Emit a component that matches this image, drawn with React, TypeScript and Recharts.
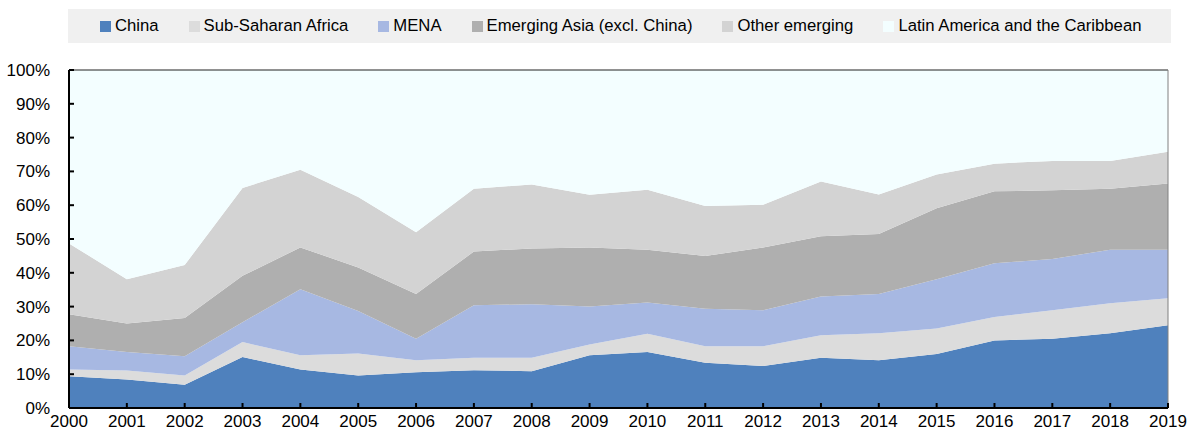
import { Area, AreaChart, ReferenceLine, XAxis, YAxis } from "recharts";

const years = [
  "2000", "2001", "2002", "2003", "2004", "2005", "2006", "2007", "2008", "2009",
  "2010", "2011", "2012", "2013", "2014", "2015", "2016", "2017", "2018", "2019",
];

// shares in % of total, per region
const china = [9.4, 8.4, 6.9, 15.1, 11.4, 9.6, 10.6, 11.2, 10.9, 15.6, 16.6, 13.4, 12.4, 14.9, 14.1, 16.0, 20.0, 20.5, 22.1, 24.5];
const subSaharan = [2.0, 2.7, 2.7, 4.4, 4.2, 6.5, 3.5, 3.7, 4.0, 3.2, 5.4, 4.9, 5.9, 6.6, 8.0, 7.5, 6.9, 8.4, 8.9, 8.0];
const mena = [6.9, 5.5, 5.7, 5.9, 19.5, 12.6, 6.4, 15.5, 15.8, 11.2, 9.2, 11.1, 10.6, 11.5, 11.6, 14.6, 15.9, 15.2, 15.8, 14.3];
const emergingAsia = [9.4, 8.4, 11.3, 13.7, 12.4, 12.9, 13.2, 15.9, 16.5, 17.5, 15.6, 15.6, 18.6, 17.8, 17.8, 21.0, 21.3, 20.3, 18.1, 19.6];
const otherEmerging = [21.0, 13.1, 15.7, 26.0, 23.0, 20.8, 18.3, 18.6, 18.9, 15.6, 17.8, 14.8, 12.6, 16.2, 11.7, 10.0, 8.2, 8.7, 8.2, 9.4];
const latinAmerica = [51.3, 61.9, 57.7, 34.9, 29.5, 37.6, 48.0, 35.1, 33.9, 36.9, 35.4, 40.2, 39.9, 33.0, 36.8, 30.9, 27.7, 26.9, 26.9, 24.2];

const yTicks = [0, 0.1, 0.2, 0.3, 0.4, 0.5, 0.6, 0.7, 0.8, 0.9, 1];

const series = [
  { key: "china", name: "China", color: "#4f81bd", values: china },
  { key: "ssa", name: "Sub-Saharan Africa", color: "#dcdcdc", values: subSaharan },
  { key: "mena", name: "MENA", color: "#a7b8e2", values: mena },
  { key: "easia", name: "Emerging Asia (excl. China)", color: "#afafaf", values: emergingAsia },
  { key: "other", name: "Other emerging", color: "#d3d3d3", values: otherEmerging },
  { key: "lac", name: "Latin America and the Caribbean", color: "#f3feff", values: latinAmerica },
];

const data = years.map((year, i) => {
  const row: Record<string, string | number> = { year };
  series.forEach((s) => {
    row[s.key] = s.values[i];
  });
  return row;
});

const font = '"Liberation Sans", Arial, sans-serif';

export default function App() {
  return (
    <div style={{ position: "absolute", left: 0, top: 0, width: 1197, height: 433, background: "#fff", fontFamily: font }}>
      <div
        style={{
          position: "absolute",
          left: 68,
          top: 9,
          width: 1103,
          height: 34,
          background: "#f0f0f0",
          display: "flex",
          alignItems: "center",
          paddingLeft: 32,
          boxSizing: "border-box",
          gap: 30,
          fontSize: 16.7,
          color: "#000",
          whiteSpace: "nowrap",
        }}
      >
        {series.map((s) => (
          <div key={s.key} style={{ display: "flex", alignItems: "center" }}>
            <span style={{ display: "inline-block", width: 11, height: 11, background: s.color, marginRight: 4 }} />
            <span>{s.name}</span>
          </div>
        ))}
      </div>
      <AreaChart
        width={1197}
        height={433}
        data={data}
        stackOffset="expand"
        margin={{ top: 70, right: 29, bottom: 0, left: 0 }}
        style={{ position: "absolute", left: 0, top: 0 }}
      >
        {series.map((s) => (
          <Area
            key={s.key}
            type="linear"
            dataKey={s.key}
            name={s.name}
            stackId="1"
            fill={s.color}
            fillOpacity={1}
            stroke="none"
            isAnimationActive={false}
          />
        ))}
        <ReferenceLine y={1} stroke="#222" strokeWidth={1} />
        <ReferenceLine x="2019" stroke="#808080" strokeWidth={1} />
        <XAxis
          dataKey="year"
          height={25}
          interval={0}
          tickSize={-5}
          tickMargin={12}
          axisLine={{ stroke: "#000", strokeWidth: 2 }}
          tickLine={{ stroke: "#000", strokeWidth: 2 }}
          tick={{ fill: "#000", fontSize: 17, fontFamily: font }}
        />
        <YAxis
          width={69}
          domain={[0, 1]}
          ticks={yTicks}
          interval={0}
          tickSize={-5}
          tickMargin={24}
          tickFormatter={(v: number) => `${Math.round(v * 100)}%`}
          axisLine={{ stroke: "#000", strokeWidth: 2 }}
          tickLine={{ stroke: "#000", strokeWidth: 2 }}
          tick={{ fill: "#000", fontSize: 17, fontFamily: font }}
        />
      </AreaChart>
    </div>
  );
}
